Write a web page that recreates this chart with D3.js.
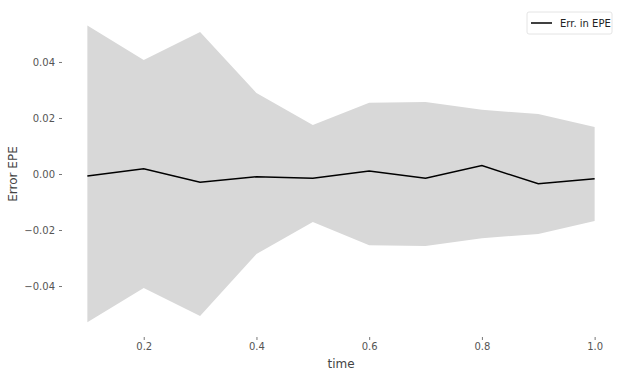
<!DOCTYPE html>
<html>
  <head lang="en">
    <meta charset="utf-8">
    <title>Error EPE over time</title>
    <script type="text/javascript" src="https://cdn.jsdelivr.net/npm/d3@7"></script>
    <style>
      body { margin: 0; background: #fff; }
      text { font-family: "DejaVu Sans", sans-serif; }
    </style>
  </head>
  <body>
    <script type="text/javascript">

      // values
      var times = [0.1, 0.2, 0.3, 0.4, 0.5, 0.6, 0.7, 0.8, 0.9, 1.0];
      var errMean = [-0.0007, 0.0019, -0.0029, -0.0010, -0.0015, 0.0011, -0.0015, 0.0030, -0.0035, -0.0017];
      var errUpper = [0.0530, 0.0407, 0.0507, 0.0289, 0.0175, 0.0254, 0.0257, 0.0229, 0.0214, 0.0168];
      var errLower = [-0.0529, -0.0407, -0.0507, -0.0286, -0.0171, -0.0254, -0.0257, -0.0229, -0.0214, -0.0168];
      var xTicks = [0.2, 0.4, 0.6, 0.8, 1.0];
      var yTicks = [-0.04, -0.02, 0.00, 0.02, 0.04];

      var data = times.map(function(t, i) {
        return {t: t, mean: errMean[i], lo: errLower[i], hi: errUpper[i]};
      });

      // plot area
      var margin = {top: 11, right: 10, bottom: 41, left: 62};
      var width = 630 - margin.left - margin.right;
      var height = 378 - margin.top - margin.bottom;

      var svg = d3.select("body")
                  .append("svg")
                  .attr("width", 630)
                  .attr("height", 378);

      var g = svg.append("g")
                 .attr("transform", "translate(" + margin.left + "," + margin.top + ")");

      var x = d3.scaleLinear().domain([0.055, 1.045]).range([0, width]);
      var y = d3.scaleLinear().domain([-0.0582, 0.0582]).range([height, 0]);

      // shaded band
      g.append("path")
       .datum(data)
       .attr("fill", "#d8d8d8")
       .attr("d", d3.area()
          .x(function(d) { return x(d.t); })
          .y0(function(d) { return y(d.lo); })
          .y1(function(d) { return y(d.hi); }));

      // mean line
      g.append("path")
       .datum(data)
       .attr("fill", "none")
       .attr("stroke", "#000")
       .attr("stroke-width", 1.5)
       .attr("d", d3.line()
          .x(function(d) { return x(d.t); })
          .y(function(d) { return y(d.mean); }));

      // axes, no domain line
      var fmt2 = function(v) { return v.toFixed(2).replace("-", "\u2212"); };

      var yAxis = g.append("g")
       .call(d3.axisLeft(y).tickValues(yTicks).tickFormat(fmt2).tickSize(3).tickPadding(4));
      var xAxis = g.append("g")
       .attr("transform", "translate(0," + height + ")")
       .call(d3.axisBottom(x).tickValues(xTicks).tickFormat(d3.format(".1f")).tickSize(3).tickPadding(3));

      [xAxis, yAxis].forEach(function(a) {
        a.select(".domain").remove();
        a.selectAll("line").attr("stroke", "#555").attr("stroke-width", 0.8);
        a.selectAll("text").attr("fill", "#555").style("font-size", "10px")
         .style("font-family", "DejaVu Sans, sans-serif");
      });

      // axis titles
      svg.append("text")
         .attr("x", margin.left + width / 2)
         .attr("y", 368)
         .attr("text-anchor", "middle")
         .attr("fill", "#444")
         .style("font-size", "12px")
         .text("time");

      svg.append("text")
         .attr("transform", "translate(17," + (margin.top + y(0)) + ") rotate(-90)")
         .attr("text-anchor", "middle")
         .attr("fill", "#444")
         .style("font-size", "12px")
         .text("Error EPE");

      // legend
      var leg = svg.append("g").attr("transform", "translate(527,12)");
      leg.append("rect")
         .attr("width", 85).attr("height", 22).attr("rx", 2)
         .attr("fill", "#fff").attr("stroke", "#ddd").attr("stroke-width", 0.8);
      leg.append("line")
         .attr("x1", 4).attr("x2", 25).attr("y1", 11).attr("y2", 11)
         .attr("stroke", "#000").attr("stroke-width", 1.5);
      leg.append("text")
         .attr("x", 33).attr("y", 15)
         .attr("fill", "#222")
         .style("font-size", "10px")
         .text("Err. in EPE");

    </script>
  </body>
</html>
